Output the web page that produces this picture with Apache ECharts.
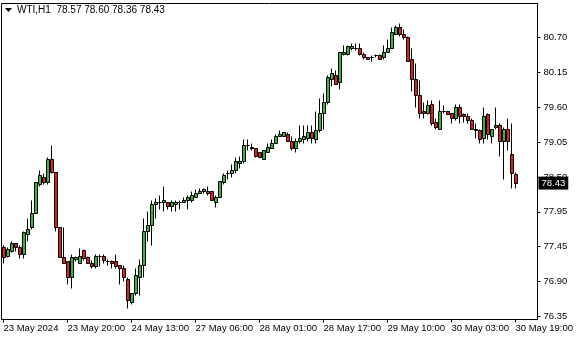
<!DOCTYPE html>
<html><head><meta charset="utf-8">
<script src="https://cdn.jsdelivr.net/npm/echarts@6/dist/echarts.min.js"></script>
<style>html,body{margin:0;padding:0;background:#fff}#c{width:580px;height:340px}</style>
</head><body><div id="c"></div>
<script>
const symbolTitle = 'WTI,H1';
// trading sessions: [day label, first hour, last hour]
const sessions = [['23 May',4,23],['24 May',1,23],['27 May',1,21],['28 May',1,23],['29 May',1,23],['30 May',1,19]];
const opens = [
77.44,77.29,77.37,77.49,77.44,77.32,77.64,77.74,77.97,78.42,
78.53,78.44,78.81,78.61,77.74,77.27,77.21,76.96,77.24,77.19,
77.38,77.27,77.18,77.13,77.29,77.30,77.21,77.21,77.21,77.15,
77.11,76.94,76.58,76.71,76.96,77.15,77.69,77.78,78.10,78.13,
78.14,78.14,78.08,78.11,78.14,78.14,78.17,78.17,78.22,78.27,
78.30,78.31,78.30,78.14,78.22,78.44,78.58,78.58,78.64,78.74,
78.77,79.02,79.00,78.97,78.92,78.81,78.91,78.98,79.06,79.17,
79.17,79.19,79.09,78.97,79.08,79.11,79.13,79.22,79.11,79.25,
79.52,79.69,80.06,80.12,80.00,80.45,80.45,80.53,80.54,80.53,
80.45,80.39,80.39,80.42,80.42,80.39,80.48,80.54,80.76,80.86,
80.75,80.70,80.37,80.05,79.80,79.55,79.53,79.66,79.39,79.28,
79.56,79.55,79.52,79.45,79.62,79.50,79.48,79.42,79.28,79.25,
79.13,79.50,79.17,79.30,79.34,79.09,79.28,78.89,78.57];
const closes = [
77.27,77.40,77.49,77.43,77.32,77.66,77.71,77.97,78.44,78.56,
78.44,78.80,78.61,77.75,77.27,77.19,76.96,77.27,77.27,77.29,
77.26,77.19,77.13,77.30,77.29,77.23,77.21,77.19,77.13,77.10,
76.96,76.60,76.72,76.99,77.15,77.69,77.77,78.11,78.14,78.14,
78.16,78.08,78.14,78.14,78.14,78.16,78.21,78.24,78.28,78.31,
78.33,78.27,78.16,78.22,78.47,78.56,78.59,78.64,78.77,78.77,
79.03,79.03,78.98,78.86,78.83,78.94,79.00,79.06,79.17,79.20,
79.22,79.09,78.97,79.09,79.14,79.16,79.23,79.13,79.25,79.52,
79.70,80.08,80.14,79.98,80.47,80.48,80.56,80.56,80.53,80.45,
80.39,80.37,80.39,80.43,80.37,80.48,80.53,80.78,80.86,80.76,
80.70,80.34,80.05,79.81,79.53,79.53,79.64,79.36,79.30,79.56,
79.55,79.50,79.45,79.62,79.47,79.48,79.42,79.28,79.25,79.11,
79.48,79.19,79.28,79.34,79.09,79.28,79.09,78.59,78.43];
const highs = [
77.46,77.43,77.53,77.49,77.46,77.68,77.88,78.16,78.45,78.64,
78.59,78.84,79.03,78.61,77.74,77.74,77.21,77.33,77.29,77.42,
77.40,77.29,77.23,77.33,77.32,77.32,77.24,77.23,77.32,77.15,
77.15,76.96,76.72,77.11,77.24,77.88,77.99,78.17,78.19,78.25,
78.39,78.14,78.16,78.17,78.17,78.22,78.24,78.31,78.33,78.35,
78.35,78.38,78.30,78.25,78.47,78.58,78.63,78.72,78.84,78.86,
79.11,79.11,79.05,78.98,78.92,78.95,79.06,79.11,79.19,79.25,
79.23,79.22,79.16,79.14,79.33,79.34,79.34,79.34,79.56,79.76,
79.84,80.11,80.22,80.19,80.48,80.58,80.59,80.61,80.61,80.61,
80.48,80.40,80.43,80.45,80.45,80.58,80.67,80.87,80.90,80.92,
80.84,80.73,80.54,80.31,80.03,79.70,79.73,79.73,79.44,79.73,
79.64,79.56,79.52,79.67,79.67,79.52,79.52,79.44,79.36,79.27,
79.61,79.52,79.28,79.61,79.36,79.31,79.45,79.36,78.60];
const lows = [
77.18,77.27,77.35,77.37,77.26,77.26,77.53,77.72,77.96,78.39,
78.41,78.42,78.58,77.69,77.27,77.18,76.85,76.79,77.21,77.18,
77.23,77.18,77.11,77.10,77.13,77.19,77.16,77.11,77.11,76.86,
76.91,76.49,76.54,76.68,76.68,76.97,77.53,77.47,77.89,78.03,
78.00,78.03,77.99,77.99,78.03,78.13,78.03,78.13,78.21,78.27,
78.28,78.25,78.16,78.05,78.21,78.42,78.50,78.53,78.58,78.67,
78.75,78.95,78.94,78.84,78.83,78.81,78.91,78.97,79.05,79.16,
79.16,79.08,78.95,78.91,79.06,79.05,79.08,79.05,79.05,79.23,
79.28,79.67,79.94,79.97,79.90,80.43,80.42,80.50,80.51,80.43,
80.36,80.36,80.34,80.39,80.36,80.36,80.47,80.53,80.75,80.73,
80.68,80.33,79.87,79.62,79.45,79.45,79.50,79.33,79.28,79.27,
79.52,79.50,79.37,79.41,79.37,79.39,79.37,79.27,79.14,79.05,
79.06,79.11,79.05,79.28,78.86,78.50,78.94,78.35,78.36];
const xTickLabels = ['23 May 2024','23 May 20:00','24 May 13:00','27 May 06:00','28 May 01:00','28 May 17:00','29 May 10:00','30 May 03:00','30 May 19:00'];
const yTickLabels = ['76.35','76.90','77.45','77.95','78.50','79.05','79.60','80.15','80.70'];
const yMin = 76.303, yMax = 81.23;
const chartShift = 5;
const BULL = '#3cb43c', BEAR = '#e02020';

const pad = n => String(n).padStart(2,'0');
const categories = [];
sessions.forEach(([d,a,b]) => { for (let h=a; h<=b; h++) categories.push(d + ' ' + pad(h) + ':00'); });
const axisCats = categories.concat(Array.from({length: chartShift}, (_, k) => 'shift' + k));
const labelIdx = xTickLabels.map((l,k) => k === 0 ? 0 : categories.indexOf(l));
const n = yTickLabels.length, lo = +yTickLabels[0], hi = +yTickLabels[n-1];
const yTickVals = yTickLabels.map((_,k) => lo + k*(hi-lo)/(n-1));
const rows = opens.map((o,i) => [i, o, closes[i], lows[i], highs[i]]);
const last = closes.length - 1;
const FONT = '"Liberation Sans", Arial, sans-serif';

function renderCandle(params, api) {
  const i = api.value(0), o = api.value(1), c = api.value(2);
  const pO = api.coord([i, o]), pC = api.coord([i, c]);
  const pL = api.coord([i, api.value(3)]), pH = api.coord([i, api.value(4)]);
  const cx = Math.floor(pO[0]) + 0.5;
  const snap = y => Math.round(y) + 0.5;
  const yT = snap(Math.min(pO[1], pC[1])), yB = snap(Math.max(pO[1], pC[1]));
  return {type: 'group', children: [
    {type: 'line', shape: {x1: cx, y1: snap(pH[1]), x2: cx, y2: snap(pL[1])}, style: {stroke: '#000', lineWidth: 1}},
    {type: 'rect', shape: {x: cx - 1, y: yT, width: 3, height: yB - yT}, style: {fill: c >= o ? BULL : BEAR, stroke: '#000', lineWidth: 1}}
  ]};
}

const chart = echarts.init(document.getElementById('c'), null, {renderer:'canvas'});
chart.setOption({
  animation: false,
  backgroundColor: '#fff',
  grid: {left: 1.5, right: 42.5, top: 3.5, bottom: 20.5, show: true, borderColor: '#000', borderWidth: 1, backgroundColor: '#fff'},
  graphic: [
    {type:'polygon', shape:{points:[[5,8],[12,8],[8.5,12]]}, style:{fill:'#000'}},
    {type:'text', left: 17, top: 5, style:{text: symbolTitle + '  ' + [opens[last],highs[last],lows[last],closes[last]].map(v=>v.toFixed(2)).join(' '), fill:'#000', font:'10px ' + FONT}}
  ],
  xAxis: {
    type: 'category', data: axisCats, boundaryGap: true,
    axisLine: {show: true, lineStyle: {color:'#000', width:1}},
    axisTick: {show: true, alignWithLabel: true, length: 3, interval: (i) => labelIdx.includes(i), lineStyle:{color:'#000'}},
    axisLabel: {interval: (i) => labelIdx.includes(i), formatter: (v, i) => xTickLabels[labelIdx.indexOf(i)], align: 'left', margin: 4, color:'#000', fontSize: 9.5, fontFamily: FONT},
    splitLine: {show: false}
  },
  yAxis: {
    type: 'value', position: 'right', min: yMin, max: yMax, scale: true,
    axisLine: {show: true, lineStyle: {color:'#000', width:1}},
    axisTick: {show: true, length: 3, customValues: yTickVals, lineStyle:{color:'#000'}},
    axisLabel: {customValues: yTickVals, margin: 6, color:'#000', fontSize: 9.5, fontFamily: FONT,
      formatter: (v) => { let b=0; yTickVals.forEach((t,k)=>{ if (Math.abs(t-v) < Math.abs(yTickVals[b]-v)) b=k; }); return yTickLabels[b]; }},
    splitLine: {show: false}
  },
  series: [{
    type: 'custom', data: rows, renderItem: renderCandle, clip: true,
    encode: {x: 0, y: [1, 2, 3, 4]},
    markLine: {
      silent: true, symbol: 'none', animation: false,
      lineStyle: {color: 'rgba(0,0,0,0)', width: 0},
      data: [{yAxis: closes[last]}],
      label: {show: true, position: 'end', distance: 1, formatter: closes[last].toFixed(2), backgroundColor:'#000', color:'#fff', padding:[2,3,1,3], fontSize: 9.5, fontFamily: FONT}
    }
  }]
});
</script></body></html>
